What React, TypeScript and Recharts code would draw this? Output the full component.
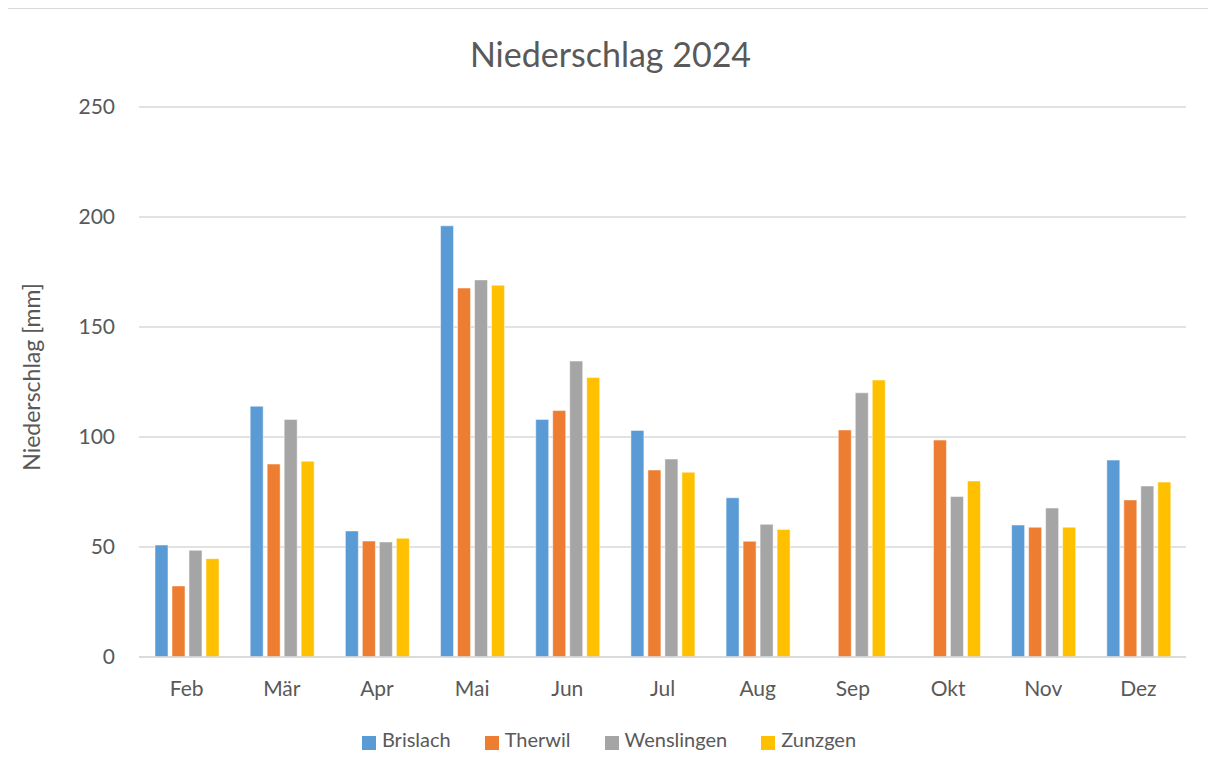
import { Bar, BarChart, CartesianGrid, Label, Legend, XAxis, YAxis } from "recharts";

const months = ["Feb", "Mär", "Apr", "Mai", "Jun", "Jul", "Aug", "Sep", "Okt", "Nov", "Dez"];
const brislach = [50.9, 114, 57.3, 196, 108, 103, 72.4, null, null, 60, 89.5];
const therwil = [32.3, 87.7, 52.7, 167.7, 112, 85, 52.6, 103.2, 98.6, 59, 71.4];
const wenslingen = [48.5, 108, 52.3, 171.4, 134.5, 90, 60.3, 120.1, 72.9, 67.7, 77.7];
const zunzgen = [44.7, 89, 54, 169, 127, 84, 58, 125.9, 80, 59, 79.5];
const yTicks = [0, 50, 100, 150, 200, 250];

const data = months.map((m, i) => ({
  month: m,
  Brislach: brislach[i],
  Therwil: therwil[i],
  Wenslingen: wenslingen[i],
  Zunzgen: zunzgen[i],
}));

const font = "Lato, 'Open Sans', sans-serif";
const textColor = "#595959";

export default function App() {
  return (
    <div
      style={{
        position: "relative",
        marginLeft: -3,
        width: 1209,
        height: 766,
        border: "1px solid #d9d9d9",
        fontFamily: font,
        background: "#fff",
      }}
    >
      <div
        style={{
          position: "absolute",
          top: 24,
          left: 0,
          width: "100%",
          textAlign: "center",
          fontSize: 34,
          color: textColor,
        }}
      >
        Niederschlag 2024
      </div>
      <BarChart
        width={1209}
        height={766}
        data={data}
        margin={{ top: 98, right: 29, left: 0, bottom: 20 }}
        barSize={13}
        barGap={4}
      >
        <CartesianGrid vertical={false} stroke="#d9d9d9" strokeWidth={1.5} />
        <XAxis
          dataKey="month"
          tickLine={false}
          axisLine={{ stroke: "#d9d9d9", strokeWidth: 1.5 }}
          tickSize={0}
          tickMargin={24}
          height={70}
          tick={{ fill: textColor, fontSize: 21, fontFamily: font }}
        />
        <YAxis
          width={133}
          domain={[0, 250]}
          ticks={yTicks}
          axisLine={false}
          tickLine={false}
          tickSize={0}
          tickMargin={24}
          tick={{ fill: textColor, fontSize: 21, fontFamily: font }}
        >
          <Label
            content={({ viewBox }: any) => {
              const cx = viewBox.x + 25;
              const cy = viewBox.y + viewBox.height / 2 - 5;
              return (
                <text
                  x={cx}
                  y={cy}
                  transform={`rotate(-90 ${cx} ${cy})`}
                  textAnchor="middle"
                  dominantBaseline="central"
                  fill={textColor}
                  fontSize={23}
                  fontFamily={font}
                >
                  Niederschlag [mm]
                </text>
              );
            }}
          />
        </YAxis>
        <Legend
          verticalAlign="bottom"
          iconType="square"
          iconSize={14}
          height={28}
          wrapperStyle={{ paddingLeft: 18 }}
          formatter={(v: string, _e: any, i: number) => (
            <span
              style={{
                color: textColor,
                fontSize: 20,
                fontFamily: font,
                marginRight: i === 3 ? 0 : 24,
                marginLeft: 2,
              }}
            >
              {v}
            </span>
          )}
        />
        <Bar dataKey="Brislach" fill="#5B9BD5" stroke="#fff" strokeWidth={0.5} isAnimationActive={false} />
        <Bar dataKey="Therwil" fill="#ED7D31" stroke="#fff" strokeWidth={0.5} isAnimationActive={false} />
        <Bar dataKey="Wenslingen" fill="#A5A5A5" stroke="#fff" strokeWidth={0.5} isAnimationActive={false} />
        <Bar dataKey="Zunzgen" fill="#FFC000" stroke="#fff" strokeWidth={0.5} isAnimationActive={false} />
      </BarChart>
    </div>
  );
}
